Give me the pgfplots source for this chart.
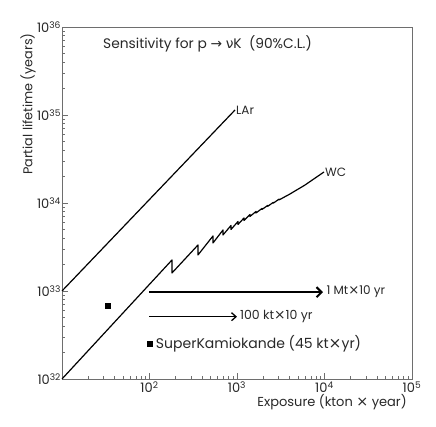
\documentclass[border=0pt]{standalone}
\usepackage{pgfplots}
\pgfplotsset{compat=1.18}
\usepackage{fontspec}
\setmainfont{Poppins}
\newfontfamily\dejavu{DejaVu Sans}
\newcommand\tm{{\dejavu\addfontfeatures{Scale=1.1}×}}
\usetikzlibrary{arrows.meta}
\definecolor{axgray}{RGB}{110,110,110}
\definecolor{txt}{RGB}{40,40,40}
\begin{document}
\begin{tikzpicture}
\useasboundingbox (-62pt,-47pt) rectangle (374pt,379pt);
\begin{axis}[
  at={(0,0)}, anchor=south west,
  scale only axis, width=350pt, height=352pt,
  xmode=log, ymode=log,
  xmin=10, xmax=1e5, ymin=1e32, ymax=1e36,
  xtick={10,100,1000,10000,100000},
  xticklabels={,10\textsuperscript{2},10\textsuperscript{3},10\textsuperscript{4},10\textsuperscript{5}},
  ytick={1e32,1e33,1e34,1e35,1e36},
  yticklabels={10\textsuperscript{32},10\textsuperscript{33},10\textsuperscript{34},10\textsuperscript{35},10\textsuperscript{36}},
  minor xtick={20,30,40,50,60,70,80,90,200,300,400,500,600,700,800,900,2000,3000,4000,5000,6000,7000,8000,9000,20000,30000,40000,50000,60000,70000,80000,90000},
  minor ytick={2e32,3e32,4e32,5e32,6e32,7e32,8e32,9e32,2e33,3e33,4e33,5e33,6e33,7e33,8e33,9e33,2e34,3e34,4e34,5e34,6e34,7e34,8e34,9e34,2e35,3e35,4e35,5e35,6e35,7e35,8e35,9e35},
  tick align=inside, xtick pos=bottom, ytick pos=left,
  major tick length=6pt, minor tick length=3pt,
  axis line style={axgray, line width=0.9pt},
  every tick/.style={axgray, line width=0.7pt},
  ticklabel style={font=\fontsize{13}{14}\selectfont, text=txt},
  yticklabel style={xshift=2.5pt},
  xticklabel style={yshift=1pt},
  xlabel={Exposure (kton \tm\ year)},
  xlabel style={at={(axis description cs:0.995,-0.065)}, anchor=east, font=\fontsize{13}{14}\selectfont, text=txt},
  ylabel={Partial lifetime (years)},
  ylabel style={at={(axis description cs:-0.097,0.992)}, anchor=east, font=\fontsize{12.8}{14}\selectfont, text=txt},
  clip=false,
]
% LAr
\addplot[black, line width=1.2pt] coordinates {(10,1e33) (950,1.14e35)};
% WC
\addplot[black, line width=1.2pt, line join=round] coordinates {
(10,1e32)
(180.8,2.251e33) (180.8,1.602e33)
(358.4,3.332e33) (358.4,2.566e33)
(531.8,4.217e33) (531.8,3.511e33)
(691.8,4.934e33) (691.8,4.329e33)
(854,5.551e33) (854,4.998e33)
(1027,6.164e33) (1027,5.697e33)
(1202,6.752e33) (1202,6.327e33)
(1408,7.40e33) (1408,7.025e33)
(1649,8.008e33) (1649,7.70e33)
(1931,8.66e33) (1931,8.44e33)
(2243,9.37e33) (2243,9.16e33)
(2604,1.017e34) (2604,9.96e33)
(3025,1.106e34) (3025,1.083e34)
(4035,1.265e34)
(5986,1.60e34)
(9869,2.25e34)
};
% Super-Kamiokande point
\addplot[only marks, mark=square*, mark size=2.6pt, black] coordinates {(33,6.8e32)};
% legend marker
\addplot[only marks, mark=square*, mark size=2.4pt, black] coordinates {(100,2.5e32)};
% arrows
\addplot[black, line width=2pt, -{Straight Barb[length=5pt,width=10pt]}] coordinates {(100,0.97e33) (9600,0.97e33)};
\addplot[black, line width=1.3pt, -{Straight Barb[length=4.5pt,width=8pt]}] coordinates {(100,5.1e32) (1000,5.1e32)};
% labels
\node[anchor=west, inner sep=1pt, text=txt, font=\fontsize{12}{14}\selectfont] at (axis cs:950,1.14e35) {LAr};
\node[anchor=west, inner sep=1pt, text=txt, font=\fontsize{12}{14}\selectfont] at (axis cs:9869,2.25e34) {WC};
\node[anchor=west, inner sep=0pt, text=txt, font=\fontsize{12}{14}\selectfont] at (axis cs:10500,0.97e33) {1 Mt\tm10 yr};
\node[anchor=west, inner sep=0pt, text=txt, font=\fontsize{12.5}{14}\selectfont] at (axis cs:1080,5.1e32) {100 kt\tm10 yr};
\node[anchor=west, inner sep=0pt, text=txt, font=\fontsize{14}{16}\selectfont] at (axis cs:118,2.5e32) {SuperKamiokande (45 kt\tm yr)};
\node[anchor=west, inner sep=0pt, text=txt, font=\fontsize{13.8}{16}\selectfont] at (axis cs:29.4,6.4e35) {Sensitivity for p {\dejavu→} {\dejavu ν}K~~(90\%C.L.)};
\end{axis}
\end{tikzpicture}
\end{document}
